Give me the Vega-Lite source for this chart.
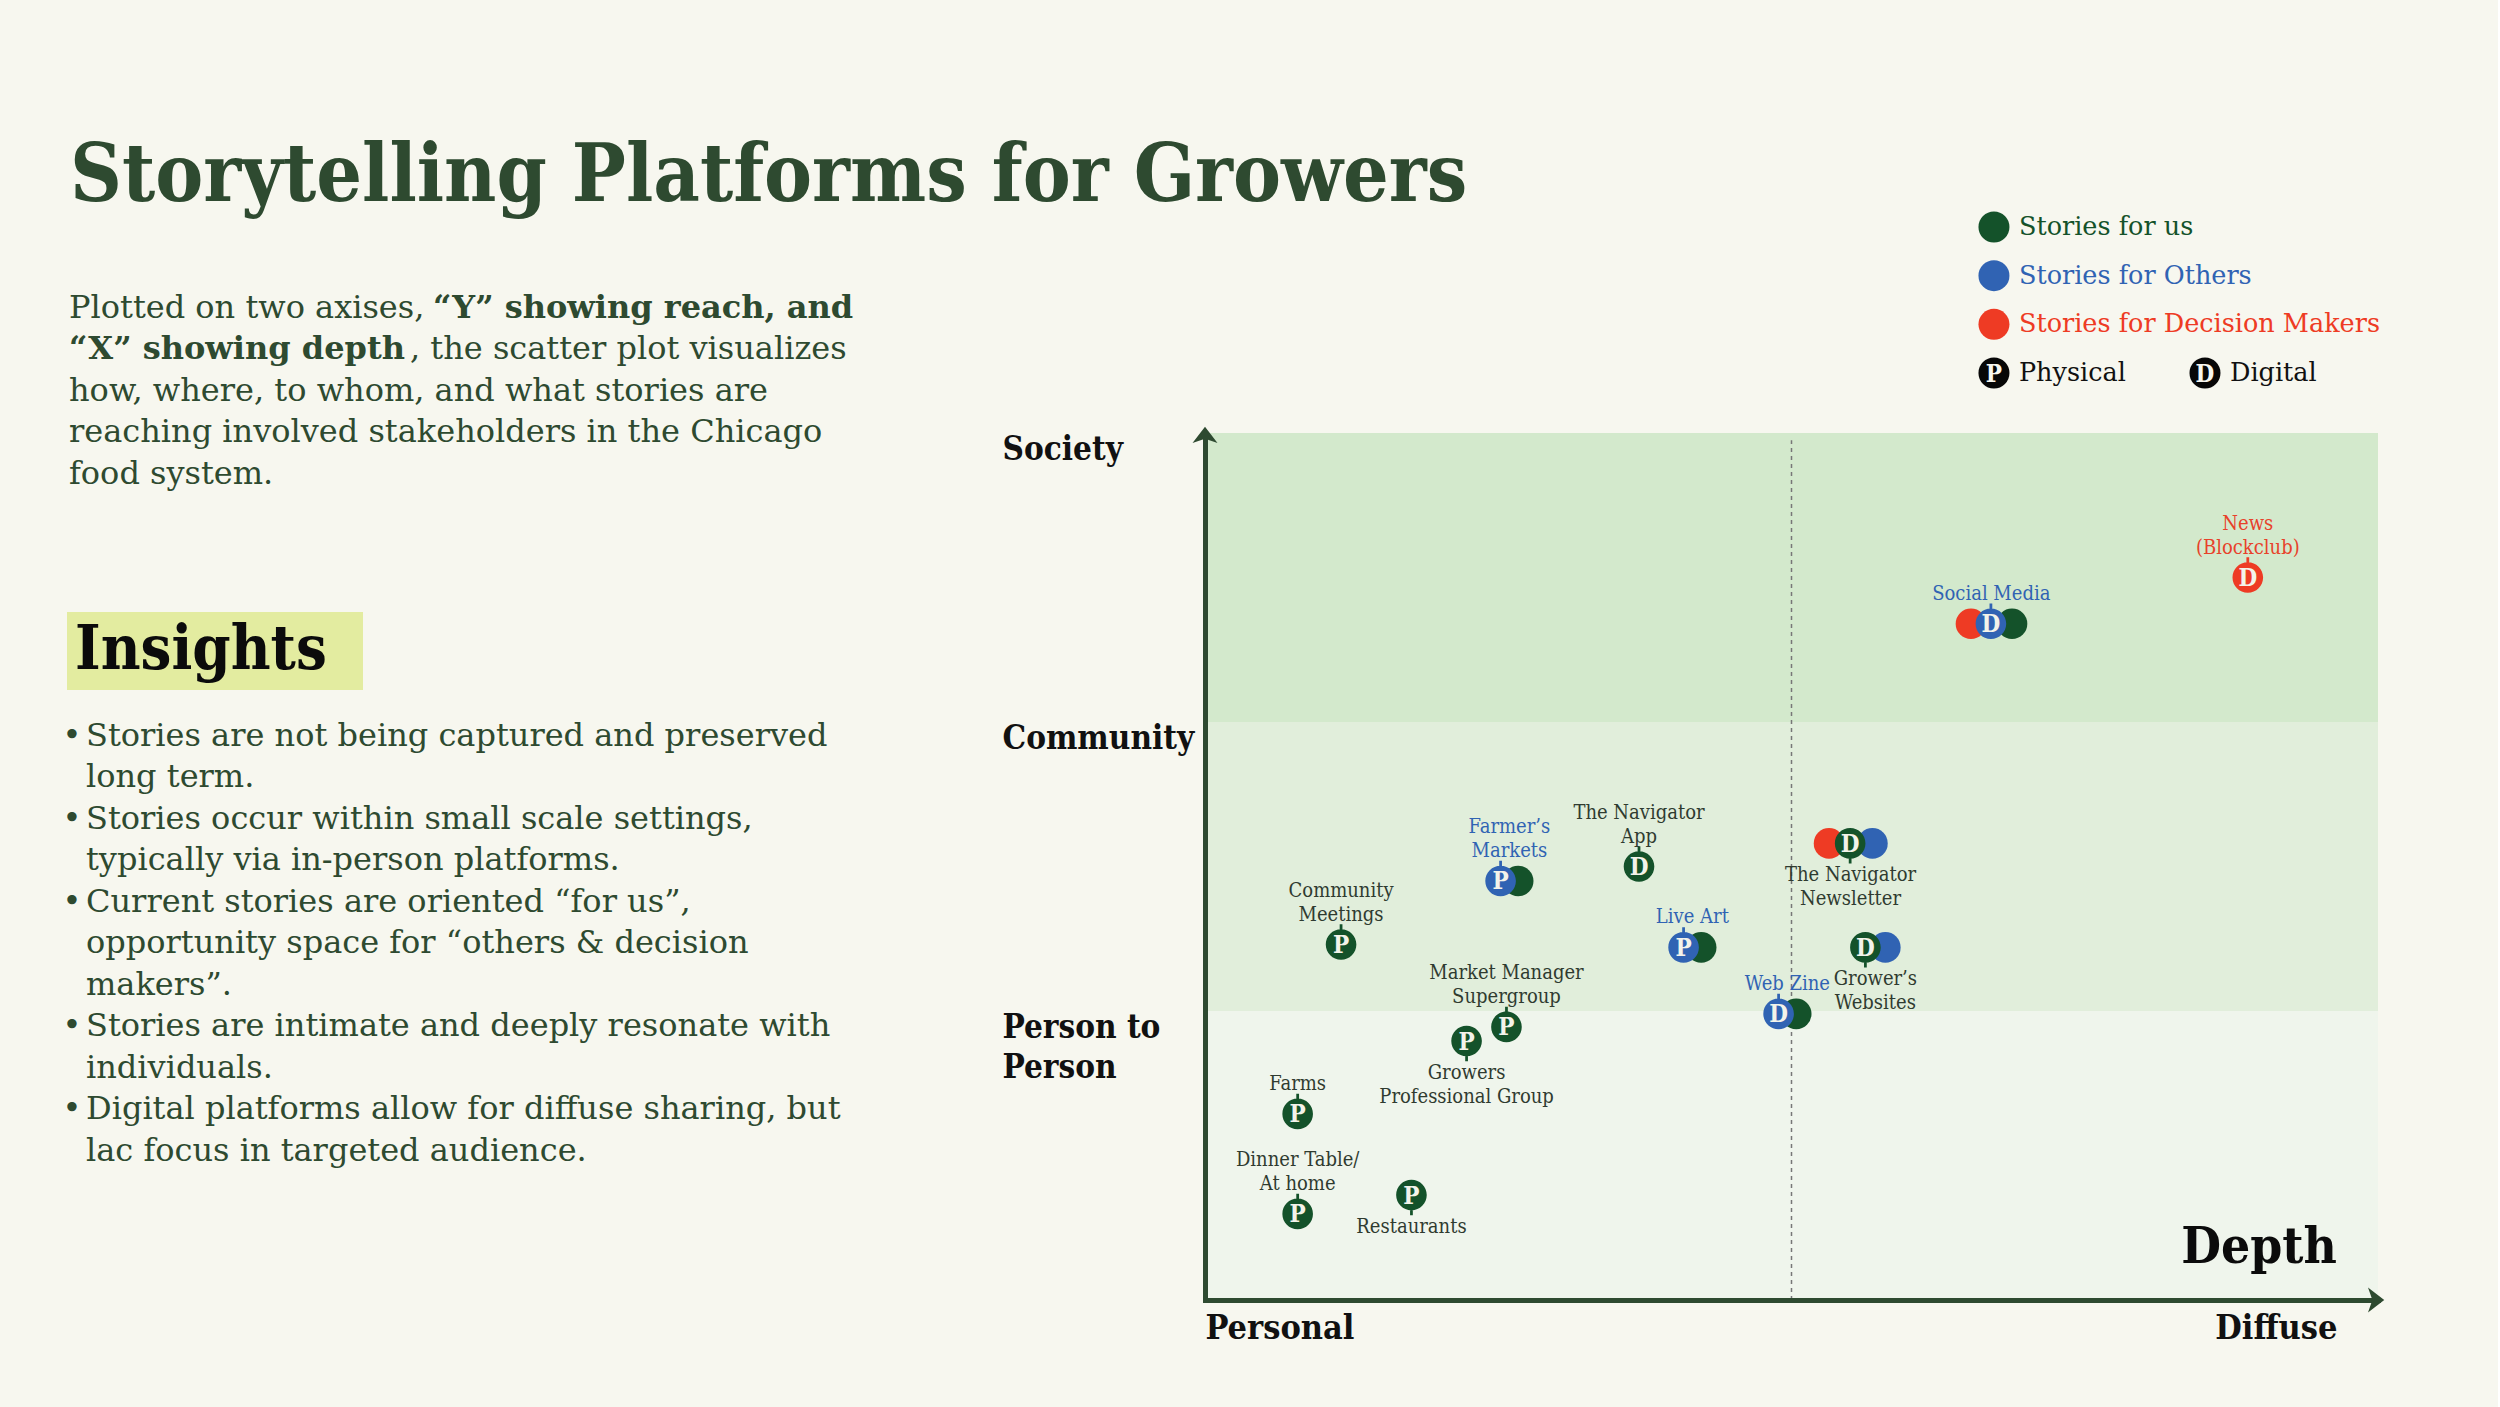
{
  "$schema": "https://vega.github.io/schema/vega-lite/v6.json",
  "background": "#f7f7ef",
  "autosize": {"type": "pad"},
  "padding": {"left": 62, "top": 137, "right": 113, "bottom": 69},
  "bounds": "flush",
  "spacing": 1138,
  "title": {
    "text": "Storytelling Platforms for Growers",
    "anchor": "start", "frame": "group", "dx": 3, "offset": -28,
    "font": "DejaVu Serif Condensed", "fontSize": 80, "fontWeight": "bold", "color": "#2e4a30"
  },
  "config": {
    "view": {"stroke": null},
    "font": "DejaVu Serif",
    "text": {"font": "DejaVu Serif"}
  },
  "datasets": {
    "platforms": [
      {"platform": "News\n(Blockclub)", "audience": "Decision Makers", "format": "D", "depth": 8.89, "reach": 2.50, "primary": true, "side": "above"},
      {"platform": "Social Media", "audience": "Decision Makers", "format": "D", "depth": 6.53, "reach": 2.34, "primary": false, "side": "above"},
      {"platform": "Social Media", "audience": "Us", "format": "D", "depth": 6.88, "reach": 2.34, "primary": false, "side": "above"},
      {"platform": "Social Media", "audience": "Others", "format": "D", "depth": 6.70, "reach": 2.34, "primary": true, "side": "above"},
      {"platform": "Farmer’s\nMarkets", "audience": "Us", "format": "P", "depth": 2.67, "reach": 1.45, "primary": false, "side": "above"},
      {"platform": "Farmer’s\nMarkets", "audience": "Others", "format": "P", "depth": 2.52, "reach": 1.45, "primary": true, "side": "above"},
      {"platform": "The Navigator\nApp", "audience": "Us", "format": "D", "depth": 3.70, "reach": 1.50, "primary": true, "side": "above"},
      {"platform": "Community\nMeetings", "audience": "Us", "format": "P", "depth": 1.16, "reach": 1.23, "primary": true, "side": "above"},
      {"platform": "Live Art", "audience": "Us", "format": "P", "depth": 4.23, "reach": 1.22, "primary": false, "side": "above"},
      {"platform": "Live Art", "audience": "Others", "format": "P", "depth": 4.08, "reach": 1.22, "primary": true, "side": "above"},
      {"platform": "The Navigator\nNewsletter", "audience": "Decision Makers", "format": "D", "depth": 5.32, "reach": 1.58, "primary": false, "side": "below"},
      {"platform": "The Navigator\nNewsletter", "audience": "Others", "format": "D", "depth": 5.69, "reach": 1.58, "primary": false, "side": "below"},
      {"platform": "The Navigator\nNewsletter", "audience": "Us", "format": "D", "depth": 5.50, "reach": 1.58, "primary": true, "side": "below"},
      {"platform": "Grower’s\nWebsites", "audience": "Others", "format": "D", "depth": 5.80, "reach": 1.22, "primary": false, "side": "below"},
      {"platform": "Grower’s\nWebsites", "audience": "Us", "format": "D", "depth": 5.63, "reach": 1.22, "primary": true, "side": "below"},
      {"platform": "Web Zine", "audience": "Us", "format": "D", "depth": 5.04, "reach": 0.99, "primary": false, "side": "above"},
      {"platform": "Web Zine", "audience": "Others", "format": "D", "depth": 4.89, "reach": 0.99, "primary": true, "side": "above"},
      {"platform": "Market Manager\nSupergroup", "audience": "Us", "format": "P", "depth": 2.57, "reach": 0.945, "primary": true, "side": "above"},
      {"platform": "Growers\nProfessional Group", "audience": "Us", "format": "P", "depth": 2.23, "reach": 0.896, "primary": true, "side": "below"},
      {"platform": "Farms", "audience": "Us", "format": "P", "depth": 0.79, "reach": 0.644, "primary": true, "side": "above"},
      {"platform": "Dinner Table/\nAt home", "audience": "Us", "format": "P", "depth": 0.79, "reach": 0.298, "primary": true, "side": "above"},
      {"platform": "Restaurants", "audience": "Us", "format": "P", "depth": 1.76, "reach": 0.363, "primary": true, "side": "below"}
    ],
    "bands": [
      {"band": "Society", "lo": 2, "hi": 3},
      {"band": "Community", "lo": 1, "hi": 2},
      {"band": "Person to Person", "lo": 0, "hi": 1}
    ],
    "legend": [
      {"entry": "Stories for us", "kind": "audience", "group": "Us", "code": ""},
      {"entry": "Stories for Others", "kind": "audience", "group": "Others", "code": ""},
      {"entry": "Stories for Decision Makers", "kind": "audience", "group": "Decision Makers", "code": ""},
      {"entry": "Physical", "kind": "format", "group": "Format", "code": "P"},
      {"entry": "Digital", "kind": "format", "group": "Format", "code": "D"}
    ],
    "intro": [
      {"line": 0, "seg": 1, "bold": false, "text": "Plotted on two axises,"},
      {"line": 0, "seg": 2, "bold": true, "text": "“Y” showing reach, and"},
      {"line": 1, "seg": 1, "bold": true, "text": "“X” showing depth"},
      {"line": 1, "seg": 2, "bold": false, "text": ", the scatter plot visualizes"},
      {"line": 2, "seg": 1, "bold": false, "text": "how, where, to whom, and what stories are"},
      {"line": 3, "seg": 1, "bold": false, "text": "reaching involved stakeholders in the Chicago"},
      {"line": 4, "seg": 1, "bold": false, "text": "food system."}
    ],
    "bullets": [
      {"line": 0, "bullet": true, "text": "Stories are not being captured and preserved"},
      {"line": 1, "bullet": false, "text": "long term."},
      {"line": 2, "bullet": true, "text": "Stories occur within small scale settings,"},
      {"line": 3, "bullet": false, "text": "typically via in-person platforms."},
      {"line": 4, "bullet": true, "text": "Current stories are oriented “for us”,"},
      {"line": 5, "bullet": false, "text": "opportunity space for “others & decision"},
      {"line": 6, "bullet": false, "text": "makers”."},
      {"line": 7, "bullet": true, "text": "Stories are intimate and deeply resonate with"},
      {"line": 8, "bullet": false, "text": "individuals."},
      {"line": 9, "bullet": true, "text": "Digital platforms allow for diffuse sharing, but"},
      {"line": 10, "bullet": false, "text": "lac focus in targeted audience."}
    ],
    "header": [{"heading": "Insights"}],
    "notes": [{"note": "Depth"}]
  },
  "hconcat": [
    {
      "spacing": 0,
      "bounds": "flush",
      "vconcat": [
        {
          "width": 800, "height": 422,
          "data": {"name": "intro"},
          "encoding": {
            "y": {"field": "line", "type": "quantitative", "scale": {"domain": [-3.084, 7.085], "reverse": true, "nice": false, "zero": false}, "axis": null},
            "x": {"datum": 0, "type": "quantitative", "scale": {"domain": [0, 1]}, "axis": null},
            "text": {"field": "text"}
          },
          "layer": [
            {"transform": [{"filter": "datum.seg == 1 && !datum.bold"}],
             "mark": {"type": "text", "align": "left", "baseline": "alphabetic", "dx": 2, "fontSize": 32, "color": "#2e4a30"}},
            {"transform": [{"filter": "datum.seg == 1 && datum.bold"}],
             "mark": {"type": "text", "align": "left", "baseline": "alphabetic", "dx": 2, "fontSize": 32, "fontWeight": "bold", "color": "#2e4a30"}},
            {"transform": [{"filter": "datum.seg == 2 && datum.bold"}],
             "mark": {"type": "text", "align": "left", "baseline": "alphabetic", "dx": 366, "fontSize": 32, "fontWeight": "bold", "color": "#2e4a30"}},
            {"transform": [{"filter": "datum.seg == 2 && !datum.bold"}],
             "mark": {"type": "text", "align": "left", "baseline": "alphabetic", "dx": 343, "fontSize": 32, "color": "#2e4a30"}}
          ]
        },
        {
          "width": 296, "height": 78,
          "view": {"fill": "#e3eca0", "stroke": null},
          "data": {"name": "header"},
          "mark": {"type": "text", "align": "left", "baseline": "middle", "dx": 8, "font": "DejaVu Serif Condensed", "fontSize": 61, "fontWeight": "bold", "color": "#0b0b0b"},
          "encoding": {
            "x": {"datum": 0, "type": "quantitative", "scale": {"domain": [0, 1]}, "axis": null},
            "text": {"field": "heading"}
          }
        },
        {
          "width": 800, "height": 500,
          "data": {"name": "bullets"},
          "encoding": {
            "y": {"field": "line", "type": "quantitative", "scale": {"domain": [-1.349, 10.699], "reverse": true, "nice": false, "zero": false}, "axis": null},
            "x": {"datum": 0, "type": "quantitative", "scale": {"domain": [0, 1]}, "axis": null}
          },
          "layer": [
            {"mark": {"type": "text", "align": "left", "baseline": "alphabetic", "dx": 19, "fontSize": 32, "color": "#2e4a30"},
             "encoding": {"text": {"field": "text"}}},
            {"transform": [{"filter": "datum.bullet"}],
             "mark": {"type": "text", "align": "center", "baseline": "alphabetic", "dx": 5, "fontSize": 32, "color": "#2e4a30"},
             "encoding": {"text": {"value": "•"}}}
          ]
        }
      ]
    },
    {
      "spacing": 23,
      "bounds": "flush",
      "vconcat": [
        {
          "width": 1173, "height": 220,
          "data": {"name": "legend"},
          "encoding": {
            "y": {"field": "group", "type": "ordinal", "scale": {"type": "point", "domain": ["Us", "Others", "Decision Makers", "Format"], "padding": 0.76}, "axis": null}
          },
          "layer": [
            {
              "transform": [{"filter": "datum.kind == 'audience'"}],
              "encoding": {
                "x": {"datum": 6.726, "type": "quantitative", "scale": {"domain": [0, 10], "nice": false}, "axis": null},
                "color": {"field": "group", "type": "nominal", "scale": {"domain": ["Us", "Others", "Decision Makers"], "range": ["#14522a", "#3063b3", "#ee3b24"]}, "legend": null}
              },
              "layer": [
                {"mark": {"type": "point", "shape": "circle", "filled": true, "size": 961, "opacity": 1}},
                {"mark": {"type": "text", "align": "left", "baseline": "middle", "dx": 25, "fontSize": 25.5}, "encoding": {"text": {"field": "entry"}}}
              ]
            },
            {
              "transform": [{"filter": "datum.code == 'P'"}],
              "encoding": {"x": {"datum": 6.726, "type": "quantitative"}},
              "layer": [
                {"mark": {"type": "point", "shape": "circle", "filled": true, "size": 961, "opacity": 1, "color": "#070707"}},
                {"mark": {"type": "text", "align": "center", "baseline": "middle", "dy": 1.5, "font": "DejaVu Serif Condensed", "fontSize": 24, "fontWeight": "bold", "color": "#f7f7ef"}, "encoding": {"text": {"field": "code"}}},
                {"mark": {"type": "text", "align": "left", "baseline": "middle", "dx": 25, "fontSize": 25.5, "color": "#111111"}, "encoding": {"text": {"field": "entry"}}}
              ]
            },
            {
              "transform": [{"filter": "datum.code == 'D'"}],
              "encoding": {"x": {"datum": 8.525, "type": "quantitative"}},
              "layer": [
                {"mark": {"type": "point", "shape": "circle", "filled": true, "size": 961, "opacity": 1, "color": "#070707"}},
                {"mark": {"type": "text", "align": "center", "baseline": "middle", "dy": 1.5, "font": "DejaVu Serif Condensed", "fontSize": 24, "fontWeight": "bold", "color": "#f7f7ef"}, "encoding": {"text": {"field": "code"}}},
                {"mark": {"type": "text", "align": "left", "baseline": "middle", "dx": 25, "fontSize": 25.5, "color": "#111111"}, "encoding": {"text": {"field": "entry"}}}
              ]
            }
          ]
        },
        {
          "width": 1173, "height": 867,
          "resolve": {"scale": {"color": "independent"}},
          "layer": [
            {
              "data": {"name": "bands"},
              "mark": {"type": "rect"},
              "encoding": {
                "x": {"datum": 0, "type": "quantitative", "scale": {"domain": [0, 10], "nice": false, "zero": false},
                      "axis": {"values": [0, 9.65], "labelExpr": "datum.value == 0 ? 'Personal' : 'Diffuse'",
                               "labelAlign": {"condition": {"test": "datum.value > 5", "value": "right"}, "value": "left"},
                               "labelBaseline": "top", "labelPadding": 11, "ticks": false, "tickSize": 0, "grid": false,
                               "labelFont": "DejaVu Serif Condensed", "labelFontSize": 34, "labelFontWeight": "bold", "labelColor": "#111111",
                               "labelOverlap": false, "labelBound": false, "labelFlush": false, "labelLimit": 0,
                               "domainColor": "#2e4a30", "domainWidth": 5, "domainCap": "square", "title": null, "zindex": 1}},
                "x2": {"datum": 10},
                "y": {"field": "lo", "type": "quantitative", "scale": {"domain": [0, 3], "nice": false},
                      "axis": {"values": [1, 2, 3],
                               "labelExpr": "datum.value == 3 ? 'Society' : datum.value == 2 ? 'Community' : ['Person to', 'Person']",
                               "labelAlign": "left", "labelBaseline": "top", "labelPadding": 203, "labelLineHeight": 40,
                               "ticks": false, "tickSize": 0, "grid": false,
                               "labelFont": "DejaVu Serif Condensed", "labelFontSize": 33, "labelFontWeight": "bold", "labelColor": "#111111",
                               "labelOverlap": false, "labelBound": false, "labelFlush": false, "labelLimit": 0,
                               "domainColor": "#2e4a30", "domainWidth": 5, "domainCap": "square", "title": null, "zindex": 1}},
                "y2": {"field": "hi"},
                "color": {"field": "band", "type": "nominal", "scale": {"domain": ["Society", "Community", "Person to Person"], "range": ["#d3e9cc", "#e1eedb", "#eff5ec"]}, "legend": null}
              }
            },
            {
              "data": {"values": [{"divider": "midpoint"}]},
              "mark": {"type": "rule", "color": "#777777", "strokeWidth": 1.5, "strokeDash": [4, 4]},
              "encoding": {"x": {"datum": 5, "type": "quantitative"}, "y": {"datum": 0, "type": "quantitative"}, "y2": {"datum": 2.975}}
            },
            {
              "data": {"name": "platforms"},
              "transform": [{"filter": "!datum.primary"}],
              "mark": {"type": "point", "shape": "circle", "filled": true, "size": 936, "opacity": 1},
              "encoding": {
                "x": {"field": "depth", "type": "quantitative"},
                "y": {"field": "reach", "type": "quantitative"},
                "color": {"field": "audience", "type": "nominal", "scale": {"domain": ["Us", "Others", "Decision Makers"], "range": ["#14522a", "#3063b3", "#ee3b24"]}, "legend": null}
              }
            },
            {
              "data": {"name": "platforms"},
              "transform": [{"filter": "datum.primary && datum.side == 'above'"}],
              "mark": {"type": "point", "shape": "M-1 0A1 1 0 1 1 1 0A1 1 0 1 1 -1 0ZM-0.09 -0.93L-0.09 -1.32L0.09 -1.32L0.09 -0.93Z", "filled": true, "size": 936, "opacity": 1},
              "encoding": {
                "x": {"field": "depth", "type": "quantitative"},
                "y": {"field": "reach", "type": "quantitative"},
                "color": {"field": "audience", "type": "nominal", "scale": {"domain": ["Us", "Others", "Decision Makers"], "range": ["#14522a", "#3063b3", "#ee3b24"]}, "legend": null}
              }
            },
            {
              "data": {"name": "platforms"},
              "transform": [{"filter": "datum.primary && datum.side == 'below'"}],
              "mark": {"type": "point", "shape": "M-1 0A1 1 0 1 1 1 0A1 1 0 1 1 -1 0ZM-0.09 0.93L0.09 0.93L0.09 1.32L-0.09 1.32Z", "filled": true, "size": 936, "opacity": 1},
              "encoding": {
                "x": {"field": "depth", "type": "quantitative"},
                "y": {"field": "reach", "type": "quantitative"},
                "color": {"field": "audience", "type": "nominal", "scale": {"domain": ["Us", "Others", "Decision Makers"], "range": ["#14522a", "#3063b3", "#ee3b24"]}, "legend": null}
              }
            },
            {
              "data": {"name": "platforms"},
              "transform": [{"filter": "datum.primary"}],
              "mark": {"type": "text", "align": "center", "baseline": "middle", "dy": 1.5, "font": "DejaVu Serif Condensed", "fontSize": 24, "fontWeight": "bold", "color": "#f3f3ea"},
              "encoding": {
                "x": {"field": "depth", "type": "quantitative"},
                "y": {"field": "reach", "type": "quantitative"},
                "text": {"field": "format"}
              }
            },
            {
              "data": {"name": "platforms"},
              "transform": [
                {"joinaggregate": [{"op": "mean", "field": "depth", "as": "labelDepth"}], "groupby": ["platform"]},
                {"filter": "datum.primary && datum.side == 'above' && indexof(datum.platform, '\\n') < 0"}
              ],
              "mark": {"type": "text", "align": "center", "baseline": "bottom", "dy": -20, "font": "DejaVu Serif Condensed", "fontSize": 20, "lineHeight": 24, "lineBreak": "\n"},
              "encoding": {
                "x": {"field": "labelDepth", "type": "quantitative"},
                "y": {"field": "reach", "type": "quantitative"},
                "text": {"field": "platform"},
                "color": {"field": "audience", "type": "nominal", "scale": {"domain": ["Us", "Others", "Decision Makers"], "range": ["#2f3b30", "#3063b3", "#e8412a"]}, "legend": null}
              }
            },
            {
              "data": {"name": "platforms"},
              "transform": [
                {"joinaggregate": [{"op": "mean", "field": "depth", "as": "labelDepth"}], "groupby": ["platform"]},
                {"filter": "datum.primary && datum.side == 'above' && indexof(datum.platform, '\\n') >= 0"}
              ],
              "mark": {"type": "text", "align": "center", "baseline": "bottom", "dy": -44, "font": "DejaVu Serif Condensed", "fontSize": 20, "lineHeight": 24, "lineBreak": "\n"},
              "encoding": {
                "x": {"field": "labelDepth", "type": "quantitative"},
                "y": {"field": "reach", "type": "quantitative"},
                "text": {"field": "platform"},
                "color": {"field": "audience", "type": "nominal", "scale": {"domain": ["Us", "Others", "Decision Makers"], "range": ["#2f3b30", "#3063b3", "#e8412a"]}, "legend": null}
              }
            },
            {
              "data": {"name": "platforms"},
              "transform": [
                {"joinaggregate": [{"op": "mean", "field": "depth", "as": "labelDepth"}], "groupby": ["platform"]},
                {"filter": "datum.primary && datum.side == 'below'"}
              ],
              "mark": {"type": "text", "align": "center", "baseline": "top", "dy": 22, "font": "DejaVu Serif Condensed", "fontSize": 20, "lineHeight": 24, "lineBreak": "\n"},
              "encoding": {
                "x": {"field": "labelDepth", "type": "quantitative"},
                "y": {"field": "reach", "type": "quantitative"},
                "text": {"field": "platform"},
                "color": {"field": "audience", "type": "nominal", "scale": {"domain": ["Us", "Others", "Decision Makers"], "range": ["#2f3b30", "#3063b3", "#e8412a"]}, "legend": null}
              }
            },
            {
              "data": {"name": "notes"},
              "mark": {"type": "text", "align": "right", "baseline": "alphabetic", "font": "DejaVu Serif Condensed", "fontSize": 51, "fontWeight": "bold", "color": "#0b0b0b"},
              "encoding": {
                "x": {"datum": 9.65, "type": "quantitative"},
                "y": {"datum": 0.128, "type": "quantitative"},
                "text": {"field": "note"}
              }
            },
            {
              "data": {"values": [{"arrow": "reach"}]},
              "mark": {"type": "point", "shape": "M0 -0.5L1 0.8L0 0.45L-1 0.8Z", "filled": true, "size": 625, "opacity": 1, "color": "#2e4a30"},
              "encoding": {"x": {"datum": 0, "type": "quantitative"}, "y": {"datum": 3, "type": "quantitative"}}
            },
            {
              "data": {"values": [{"arrow": "depth"}]},
              "mark": {"type": "point", "shape": "M0.5 0L-0.8 1L-0.45 0L-0.8 -1Z", "filled": true, "size": 625, "opacity": 1, "color": "#2e4a30"},
              "encoding": {"x": {"datum": 10, "type": "quantitative"}, "y": {"datum": 0, "type": "quantitative"}}
            }
          ]
        }
      ]
    }
  ]
}
